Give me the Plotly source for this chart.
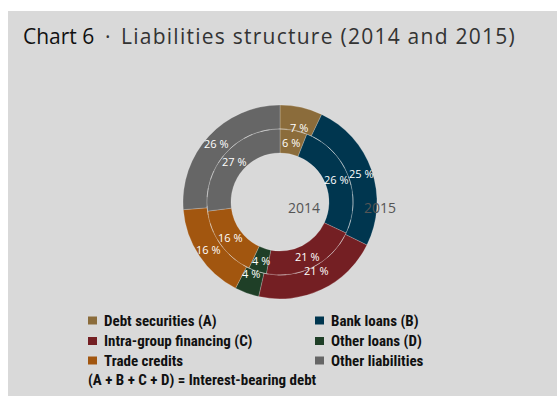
import math
import plotly.graph_objects as go

# Liabilities structure, shares in %
categories = ["Debt securities (A)", "Bank loans (B)", "Intra-group financing (C)",
              "Other loans (D)", "Trade credits", "Other liabilities"]
share_2014 = [6, 26, 21, 4, 16, 27]
share_2015 = [7, 25, 21, 4, 16, 26]
colors = ["#8b6c3b", "#00364f", "#741f23", "#1f3f27", "#a2560f", "#666666"]
years = ["2014", "2015"]
footnote = "(A + B + C + D) = Interest-bearing debt"

W, H = 557, 396
cx, cy = 280, 202          # donut centre, px from top-left
r_hole, r_mid, r_out = 49, 73, 97
BG = "#d9d9d9"


def px_x(x):
    return x / W


def px_y(y):
    return 1 - y / H


def slice_label_positions(values, radius):
    """Mid-angle points of each clockwise slice starting at 12 o'clock."""
    total = sum(values)
    pts, acc = [], 0.0
    for v in values:
        mid = (acc + v / 2) / total * 2 * math.pi
        acc += v
        pts.append((cx + radius * math.sin(mid), cy - radius * math.cos(mid)))
    return pts


fig = go.Figure()

common = dict(
    labels=categories,
    marker=dict(colors=colors, line=dict(color="rgba(255,255,255,0.35)", width=0.6)),
    sort=False,
    direction="clockwise",
    rotation=0,
    textinfo="none",
    hoverinfo="skip",
    showlegend=False,
)

# outer ring: 2015
fig.add_trace(go.Pie(
    values=share_2015,
    hole=r_mid / r_out,
    domain=dict(x=[px_x(cx - r_out), px_x(cx + r_out)], y=[px_y(cy + r_out), px_y(cy - r_out)]),
    **common,
))
# inner ring: 2014
fig.add_trace(go.Pie(
    values=share_2014,
    hole=r_hole / r_mid,
    domain=dict(x=[px_x(cx - r_mid), px_x(cx + r_mid)], y=[px_y(cy + r_mid), px_y(cy - r_mid)]),
    **common,
))

shapes = [
    # grey panel
    dict(type="rect", xref="paper", yref="paper", x0=px_x(8), x1=1, y0=0, y1=px_y(11),
         fillcolor=BG, line=dict(width=0), layer="below"),
    # dashed divider between the two rings
    dict(type="circle", xref="paper", yref="paper", xsizemode="pixel", ysizemode="pixel",
         xanchor=px_x(cx), yanchor=px_y(cy), x0=-r_mid, x1=r_mid, y0=-r_mid, y1=r_mid,
         line=dict(color="rgba(230,230,230,0.55)", width=0.8, dash="dash"), layer="above"),
]

title_font = dict(family="Open Sans", size=21)
annotations = [
    dict(text="Chart 6", x=px_x(21), y=px_y(36), xref="paper", yref="paper", xanchor="left",
         yanchor="middle", showarrow=False, font=dict(color="#111", **title_font)),
    dict(text="\u00b7", x=px_x(107.5), y=px_y(36), xref="paper", yref="paper", xanchor="center",
         yanchor="middle", showarrow=False, font=dict(color="#333", **title_font)),
    dict(text="<span style='letter-spacing:1.25px'>Liabilities structure (2014 and 2015)</span>",
         x=px_x(119), y=px_y(36), xref="paper", yref="paper", xanchor="left", yanchor="middle",
         showarrow=False, font=dict(color="#333", **title_font)),
    dict(text=years[0], x=px_x(303.5), y=px_y(207), xref="paper", yref="paper",
         showarrow=False, font=dict(family="Open Sans", size=14, color="#555")),
    dict(text=years[1], x=px_x(398), y=px_y(207), xref="paper", yref="paper",
         showarrow=False, font=dict(family="Open Sans", size=14, color="#555")),
]

# percentage labels inside each ring
label_font = dict(family="Open Sans", size=11, color="white")
for vals, rad in ((share_2015, (r_mid + r_out) / 2 + 1), (share_2014, (r_hole + r_mid) / 2)):
    for v, (lx, ly) in zip(vals, slice_label_positions(vals, rad)):
        annotations.append(dict(text=f"{v} %", x=px_x(lx), y=px_y(ly), xref="paper", yref="paper",
                                showarrow=False, font=label_font))

# legend: two columns, three rows
legend_font = dict(family="Roboto Condensed, Roboto", size=15, color="#111")
col_sq_x = [88, 315]
row_y = [320.5, 341, 360.5]
for i, (name, col) in enumerate(zip(categories, colors)):
    r, c = divmod(i, 2)
    sx, sy = col_sq_x[c], row_y[r]
    shapes.append(dict(type="rect", xref="paper", yref="paper",
                       x0=px_x(sx), x1=px_x(sx + 9), y0=px_y(sy + 4), y1=px_y(sy - 4),
                       fillcolor=col, line=dict(width=0)))
    annotations.append(dict(text=f"<b>{name}</b>", x=px_x(sx + 13.5), y=px_y(sy),
                            xref="paper", yref="paper",
                            xanchor="left", yanchor="middle", showarrow=False, font=legend_font))
annotations.append(dict(text=f"<b>{footnote}</b>", x=px_x(86), y=px_y(379.5),
                        xref="paper", yref="paper",
                        xanchor="left", yanchor="middle", showarrow=False, font=legend_font))

fig.update_layout(
    width=W, height=H,
    margin=dict(l=0, r=0, t=0, b=0),
    paper_bgcolor="white",
    plot_bgcolor=BG,
    shapes=shapes,
    annotations=annotations,
)

fig.write_html("out.html", config={"displayModeBar": False})
